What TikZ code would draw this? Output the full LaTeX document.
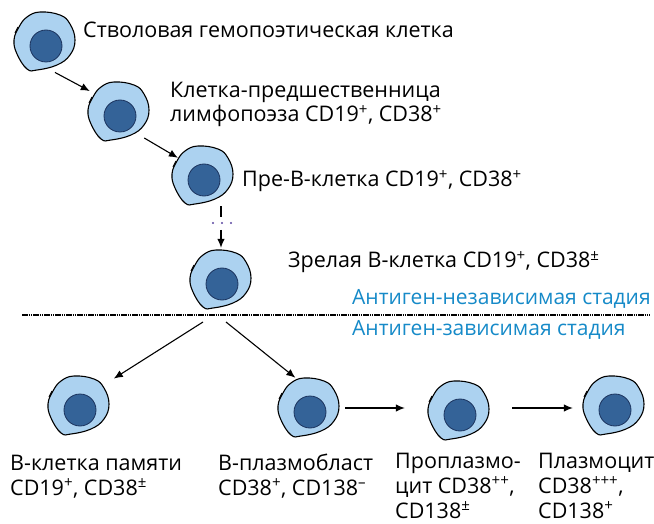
\documentclass[tikz,border=0pt]{standalone}
\usepackage{fontspec}
\setmainfont{Open Sans}
\usepackage{tikz}
\usetikzlibrary{arrows.meta}
\definecolor{cellblue}{RGB}{172,210,240}
\definecolor{coreblue}{RGB}{52,99,152}
\definecolor{coreline}{RGB}{28,52,95}
\definecolor{stageblue}{RGB}{22,138,200}
\definecolor{dotviolet}{RGB}{90,70,160}
\newcommand{\mk}[1]{\textsuperscript{#1}}
\tikzset{
	cellwall/.style={draw=black, fill=cellblue, line width=1.1pt},
	nucleus/.style={draw=coreline, fill=coreblue, line width=0.8pt},
	cellspot/.style={circle, minimum size=60pt, inner sep=0pt},
	toptext/.style={anchor=base west, align=left, inner sep=0pt, font=\fontsize{21.5}{24}\selectfont},
	bottext/.style={anchor=base west, align=left, inner sep=0pt, font=\fontsize{21.5}{25}\selectfont},
	stagetext/.style={anchor=base west, inner sep=0pt, text=stageblue, font=\fontsize{21}{24}\selectfont},
	arr/.style={-{Latex[length=9pt,width=7.5pt]}, line width=1.1pt},
	cell/.pic={
		\draw[cellwall] plot[smooth cycle, tension=0.7] coordinates {(-4,-30) (16,-27) (26,-18) (31,-2) (26,13) (13,23) (-7,28) (-17,27) (-27,12) (-30,-2) (-25,-15) (-17,-25)};
		\draw[line width=1.1pt] (-29,-9) -- (-26,-15);
		\draw[nucleus] (2,4) circle[radius=16pt];
	}
}

\begin{document}
\begin{tikzpicture}[x=1pt,y=-1pt]
	\useasboundingbox (0,0) rectangle (654,524);

	% cells
	\node[cellspot] (stem) at (44,42) {};
	\pic at (stem) {cell};
	\node[cellspot] (lymph) at (118,112) {};
	\pic at (lymph) {cell};
	\node[cellspot] (pre) at (202,176) {};
	\pic at (pre) {cell};
	\node[cellspot] (mature) at (220,280) {};
	\pic at (mature) {cell};
	\node[cellspot] (memory) at (78,406) {};
	\pic at (memory) {cell};
	\node[cellspot] (blast) at (308,408) {};
	\pic at (blast) {cell};
	\node[cellspot] (proplasma) at (458,411) {};
	\pic at (proplasma) {cell};
	\node[cellspot] (plasma) at (613,406) {};
	\pic at (plasma) {cell};

	% texts (base = last line)
	\node[toptext] (stemtext) at (83,38) {Стволовая гемопоэтическая клетка};
	\node[toptext] (lymphtext) at (170,122) {Клетка-предшественница\\лимфопоэза CD19\mk{+}, CD38\mk{+}};
	\node[toptext] (pretext) at (242,187) {Пре-В-клетка CD19\mk{+}, CD38\mk{+}};
	\node[toptext] (maturetext) at (288,268) {Зрелая В-клетка CD19\mk{+}, CD38\mk{±}};
	\node[stagetext] (indep) at (352,305) {Антиген-независимая стадия};
	\node[stagetext] (dep) at (352,335) {Антиген-зависимая стадия};
	\node[bottext] (memorytext) at (10,495) {В-клетка памяти\\CD19\mk{+}, CD38\mk{±}};
	\node[bottext] (blasttext) at (218,495) {В-плазмобласт\\CD38\mk{+}, CD138\mk{–}};
	\node[bottext] (protext) at (395,518) {Проплазмо-\\цит CD38\mk{++},\\CD138\mk{±}};
	\node[bottext] (plasmatext) at (538,518) {Плазмоцит\\CD38\mk{+++},\\CD138\mk{+}};

	% stage border
	\draw[line width=1.8pt, dash pattern=on 1.5pt off 0.7pt] (22,315) -- (650,315);

	% arrows
	\draw[arr, shorten <=3pt, shorten >=5pt] (stem.-74) -- (lymph.142);
	\draw[arr, shorten <=7pt] (lymph.-48) -- (pre.143);
	\coordinate (gaptop) at (221,217);
	\coordinate (gapbot) at (221,230);
	\draw[line width=1.1pt] (pre.south -| gaptop) -- (gaptop);
	\fill[dotviolet] (213,223) circle[radius=1.1pt] (222,223) circle[radius=1.1pt] (231,223) circle[radius=1.1pt];
	\draw[arr, shorten >=2pt] (gapbot) -- (mature.north -| gapbot);
	\coordinate (splitl) at (203,322);
	\coordinate (splitr) at (226,322);
	\draw[arr, shorten >=15pt] (splitl) -- (memory.40);
	\draw[arr, shorten >=3pt] (splitr) -- (blast.110);
	\draw[arr, shorten <=7pt, shorten >=23pt] (blast.east) -- (blast.east -| proplasma.west);
	\draw[arr, shorten <=24pt, shorten >=10pt] (proplasma.east |- blast.east) -- (plasma.west |- blast.east);
\end{tikzpicture}
\end{document}
